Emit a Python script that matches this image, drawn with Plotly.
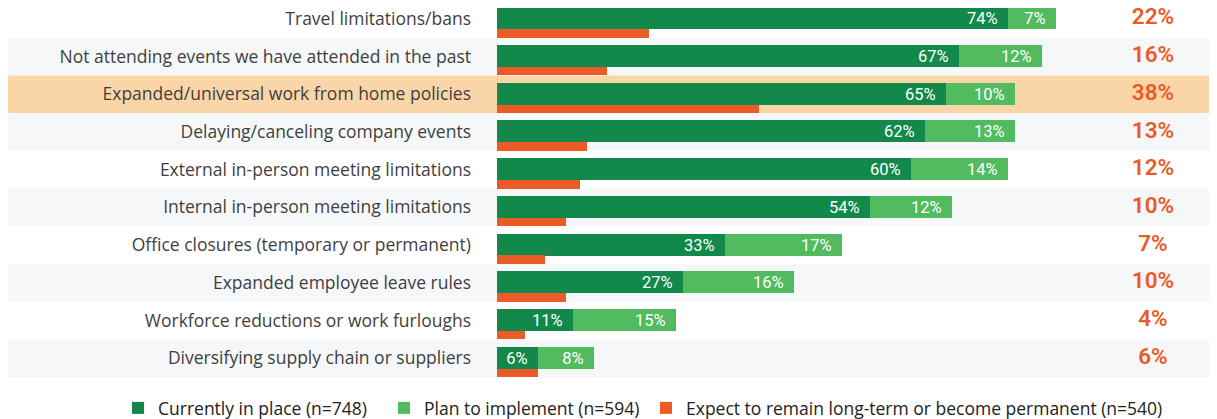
import plotly.graph_objects as go

categories = [
    "Travel limitations/bans",
    "Not attending events we have attended in the past",
    "Expanded/universal work from home policies",
    "Delaying/canceling company events",
    "External in-person meeting limitations",
    "Internal in-person meeting limitations",
    "Office closures (temporary or permanent)",
    "Expanded employee leave rules",
    "Workforce reductions or work furloughs",
    "Diversifying supply chain or suppliers",
]
currently = [74, 67, 65, 62, 60, 54, 33, 27, 11, 6]
plan = [7, 12, 10, 13, 14, 12, 17, 16, 15, 8]
long_term = [22, 16, 38, 13, 12, 10, 7, 10, 4, 6]
highlight_index = 2

series_names = [
    "Currently in place (n=748)",
    "Plan to implement (n=594)",
    "Expect to remain long-term or become permanent (n=540)",
]

DARK = "#12894A"
LIGHT = "#52BA5F"
ORANGE = "#EA5B27"
BAND_GRAY = "#F5F7F9"
BAND_HL = "#FAD5A8"

# the page body adds an 8px margin; figure is sized to fill the rest of the window
BODY = 8
W, H = 1217 - BODY, 419 - BODY
PX_PER_PCT = 6.9
PLOT_L = 497 - BODY
PLOT_W = W - PLOT_L
PLOT_H = 377 - BODY
ROW_PX = 37.7
Y_TOP = -0.5 + BODY / ROW_PX
X_MAX = PLOT_W / PX_PER_PCT
LABEL_X = (1153 - 497) / PX_PER_PCT

ypos = list(range(len(categories)))
FONT = "Open Sans, Roboto, Arial, sans-serif"
NUMFONT = "Roboto, Arial, sans-serif"
PAD = " \u2009"

fig = go.Figure()
fig.add_trace(go.Bar(
    name=series_names[0], orientation="h", y=ypos, x=currently, base=[0] * len(ypos),
    width=0.585, offset=-0.306, marker=dict(color=DARK, line=dict(width=0)),
    text=[f"{v}%{PAD}" for v in currently], textposition="inside", insidetextanchor="end",
    constraintext="none", legend="legend",
    textfont=dict(color="white", size=16.5, family=NUMFONT), textangle=0,
))
fig.add_trace(go.Bar(
    name=series_names[1], orientation="h", y=ypos, x=plan, base=currently,
    width=0.585, offset=-0.306, marker=dict(color=LIGHT, line=dict(width=0)),
    text=[f"{v}%{PAD}" for v in plan], textposition="inside", insidetextanchor="end",
    constraintext="none", legend="legend",
    textfont=dict(color="white", size=16.5, family=NUMFONT), textangle=0,
))
fig.add_trace(go.Bar(
    name=series_names[2], orientation="h", y=ypos, x=long_term, base=[0] * len(ypos),
    width=0.223, offset=0.277, marker=dict(color=ORANGE, line=dict(width=0)),
    legend="legend2",
))
fig.add_trace(go.Scatter(
    x=[LABEL_X] * len(ypos), y=ypos, mode="text",
    text=[f"{v}%" for v in long_term], textposition="middle center",
    textfont=dict(color=ORANGE, size=22.5, family=NUMFONT, weight=600),
    showlegend=False, cliponaxis=False,
))

shapes = []
for i in ypos:
    if i == highlight_index:
        color = BAND_HL
    elif i % 2 == 1:
        color = BAND_GRAY
    else:
        continue
    shapes.append(dict(
        type="rect", xref="paper", yref="y", x0=-PLOT_L / PLOT_W, x1=1.0,
        y0=i - 0.5, y1=i + 0.5, fillcolor=color, line=dict(width=0), layer="below",
    ))

legend_common = dict(
    orientation="h", xanchor="left",
    y=(PLOT_H - (408 - BODY)) / PLOT_H, yanchor="middle",
    font=dict(size=17.5, color="#222", family=FONT),
    itemwidth=30, traceorder="normal", bgcolor="rgba(0,0,0,0)",
)

fig.update_layout(
    width=W, height=H,
    margin=dict(l=PLOT_L, r=0, t=0, b=H - PLOT_H, autoexpand=False),
    paper_bgcolor="white", plot_bgcolor="rgba(0,0,0,0)",
    barmode="overlay", bargap=0,
    shapes=shapes,
    xaxis=dict(range=[0, X_MAX], visible=False, fixedrange=True),
    yaxis=dict(
        range=[len(categories) - 0.5, Y_TOP], tickmode="array", tickvals=ypos,
        ticktext=categories, ticks="", showgrid=False, zeroline=False,
        ticklabelstandoff=25, automargin=False, ticklabeloverflow="allow",
        tickfont=dict(size=17.5, color="#3f3f3f", family=FONT),
        showline=False,
    ),
    legend=dict(x=(110 - PLOT_L) / PLOT_W, entrywidth=221, **legend_common),
    legend2=dict(x=(638 - PLOT_L) / PLOT_W, **legend_common),
    showlegend=True,
)

fig.write_html("out.html")
